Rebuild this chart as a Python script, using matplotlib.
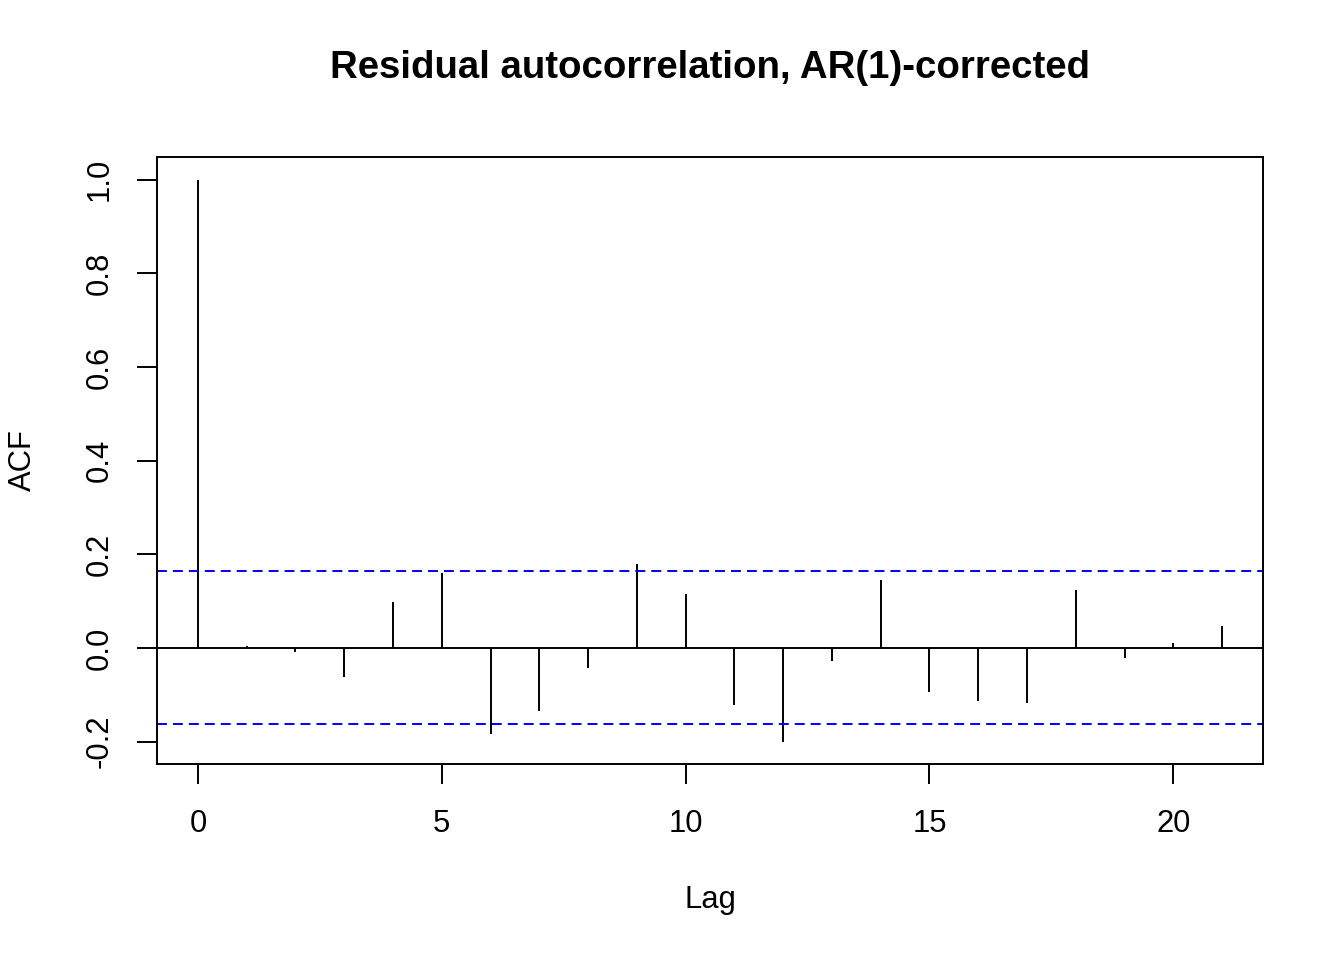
import matplotlib
matplotlib.use("Agg")
import matplotlib.pyplot as plt
import numpy as np

plt.rcParams['font.family'] = ['Liberation Sans', 'DejaVu Sans']

lags = list(range(0, 22))
acf_values = [1.0, 0.004, -0.009, -0.063, 0.098, 0.160, -0.183, -0.135, -0.042,
              0.179, 0.115, -0.123, -0.202, -0.027, 0.145, -0.095, -0.113, -0.118,
              0.123, -0.022, 0.011, 0.047]
ci_bound = 0.1633
x_ticks = [0, 5, 10, 15, 20]
y_ticks = [-0.2, 0.0, 0.2, 0.4, 0.6, 0.8, 1.0]
title = "Residual autocorrelation, AR(1)-corrected"
xlabel = "Lag"
ylabel = "ACF"

W, H = 1344, 960
fig = plt.figure(figsize=(W / 100, H / 100), dpi=100)
ax = fig.add_axes([157 / W, 1 - 764 / H, (1263 - 157) / W, (764 - 157) / H])

lw = 1.4
ax.vlines(lags, 0, acf_values, colors='black', linewidth=lw)
ax.axhline(0, color='black', linewidth=lw)
for b in (ci_bound, -ci_bound):
    ax.axhline(b, color='#0000ff', linewidth=lw, linestyle=(0, (5.1, 3.1)))

ax.set_xlim(-0.84, 21.84)
ax.set_ylim(-0.248, 1.0485)

for s in ax.spines.values():
    s.set_linewidth(lw)
    s.set_color('black')

ax.set_xticks(x_ticks)
ax.set_xticklabels([str(t) for t in x_ticks])
ax.set_yticks(y_ticks)
ax.set_yticklabels([f"{t:.1f}" for t in y_ticks], rotation=90, va='center')
ax.tick_params(axis='both', length=14.4, width=lw, labelsize=22.3, direction='out')
ax.tick_params(axis='x', pad=18)
ax.tick_params(axis='y', pad=16)

fig.text(710 / W, 1 - 68 / H, title, ha='center', va='center', fontsize=27.6, fontweight='bold')
fig.text(710 / W, 1 - 900 / H, xlabel, ha='center', va='center', fontsize=22.3)
fig.text(23 / W, 1 - 460 / H, ylabel, ha='center', va='center', fontsize=22.3, rotation=90)

fig.savefig("out.png", dpi=100)
